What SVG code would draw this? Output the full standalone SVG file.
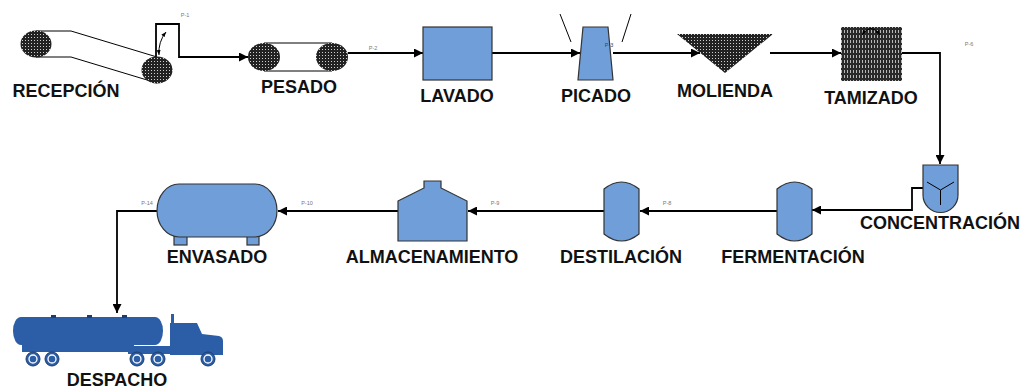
<svg xmlns="http://www.w3.org/2000/svg" width="1022" height="389" viewBox="0 0 1022 389">
  <style>
    .lbl { font-family: "Liberation Sans", Arial, sans-serif; font-weight: bold; font-size: 18px; fill: #111; text-anchor: middle; }
    .tag { font-family: "Liberation Sans", Arial, sans-serif; font-size: 5.5px; fill: #777; text-anchor: middle; }
    .pipe { fill: none; stroke: #000; stroke-width: 1.8; }
    .thin { fill: none; stroke: #000; stroke-width: 1; }
    .vessel { fill: #6f9ed9; stroke: #333; stroke-width: 1.2; }
    .truck { fill: #2b5ea7; }
    .mesh { fill: url(#mesh); }
  </style>
  <defs>
    <pattern id="mesh" width="3" height="3" patternUnits="userSpaceOnUse">
      <rect width="3" height="3" fill="#222"/>
      <rect x="1" y="1" width="1" height="1" fill="#d0d0d0"/>
    </pattern>
    <pattern id="screen" width="3" height="5" patternUnits="userSpaceOnUse">
      <rect width="3" height="5" fill="#2a2a2a"/>
      <rect x="1" y="0" width="1" height="3" fill="#b8b8b8"/>
    </pattern>
    <marker id="arr" viewBox="0 0 10 10" refX="10" refY="5" markerWidth="5" markerHeight="5" orient="auto">
      <path d="M0,0 L10,5 L0,10 Z" fill="#000"/>
    </marker>
    <marker id="arrs" viewBox="0 0 10 10" refX="10" refY="5" markerWidth="5" markerHeight="5" orient="auto-start-reverse">
      <path d="M0,1 L10,5 L0,9 Z" fill="#000"/>
    </marker>
  </defs>

  <!-- connectors -->
  <g id="connectors">
    <path class="pipe" d="M156,57 V24 H179 V57 H248" marker-end="url(#arr)"/>
    <path class="pipe" d="M348,53 H423" marker-end="url(#arr)"/>
    <path class="pipe" d="M492,53 H580" marker-end="url(#arr)"/>
    <path class="pipe" d="M613,53 H700" marker-end="url(#arr)"/>
    <path class="pipe" d="M770,53 H841" marker-end="url(#arr)"/>
    <path class="pipe" d="M902,53 H940 V164" marker-end="url(#arr)"/>
    <path class="pipe" d="M923,188 H912 V210 H812" marker-end="url(#arr)"/>
    <path class="pipe" d="M777,211 H640" marker-end="url(#arr)"/>
    <path class="pipe" d="M604,211 H468" marker-end="url(#arr)"/>
    <path class="pipe" d="M398,211 H278" marker-end="url(#arr)"/>
    <path class="pipe" d="M157,211 H117 V313" marker-end="url(#arr)"/>
    <text class="tag" x="185" y="17">P-1</text>
    <text class="tag" x="373" y="50">P-2</text>
    <text class="tag" x="969" y="46">P-6</text>
    <text class="tag" x="667" y="205">P-8</text>
    <text class="tag" x="495" y="205">P-9</text>
    <text class="tag" x="307" y="205">P-10</text>
    <text class="tag" x="147" y="205">P-14</text>
  </g>

  <!-- inclined belt conveyor -->
  <g id="recepcion">
    <path class="thin" d="M36,31 H71 L157,57 M36,57 H71 L157,83"/>
    <ellipse class="mesh" cx="36" cy="44" rx="15.5" ry="13.5"/>
    <ellipse class="mesh" cx="157" cy="70" rx="15.5" ry="13.5"/>
    <path class="thin" d="M159,55 Q158,42 166,32" marker-end="url(#arrs)" marker-start="url(#arrs)"/>
    <text class="lbl" x="66" y="97">RECEPCIÓN</text>
  </g>

  <!-- weighing belt -->
  <g id="pesado">
    <path class="thin" d="M264,43 H332 M264,71 H332"/>
    <ellipse class="mesh" cx="264" cy="57" rx="16" ry="14"/>
    <ellipse class="mesh" cx="332" cy="57" rx="16" ry="14"/>
    <text class="lbl" x="299" y="93">PESADO</text>
  </g>

  <g id="lavado">
    <rect class="vessel" x="423" y="27" width="69" height="53"/>
    <text class="lbl" x="457" y="102">LAVADO</text>
  </g>

  <g id="picado">
    <path class="thin" d="M560,14 L571,42 M631,14 L622,42"/>
    <path class="vessel" d="M583,27 H608 L613,80 H578 Z"/>
    <text class="tag" x="609" y="47" style="fill:#444">P-3</text>
    <text class="lbl" x="596" y="102">PICADO</text>
  </g>

  <g id="molienda">
    <path class="mesh" d="M677,34 H773 L725,73 Z"/>
    <text class="lbl" x="725" y="97">MOLIENDA</text>
  </g>

  <g id="tamizado">
    <rect x="841" y="27" width="61" height="54" fill="url(#screen)"/>
    <path class="thin" d="M862,35 Q871,22 880,35" marker-end="url(#arrs)" marker-start="url(#arrs)"/>
    <text class="lbl" x="871" y="104">TAMIZADO</text>
  </g>

  <g id="concentracion">
    <path class="vessel" d="M923,165 H958 V195 A17.5,17.5 0 0 1 923,195 Z"/>
    <path class="thin" d="M927,182 L940.5,190 L954,182 M940.5,190 V205"/>
    <text class="lbl" x="1020" y="229" style="text-anchor:end">CONCENTRACIÓN</text>
  </g>

  <g id="fermentacion">
    <path class="vessel" d="M777,189 Q794.5,175 812,189 V234 Q794.5,248 777,234 Z"/>
    <text class="lbl" x="793" y="263">FERMENTACIÓN</text>
  </g>

  <g id="destilacion">
    <path class="vessel" d="M604,189 Q621.5,175 639,189 V234 Q621.5,248 604,234 Z"/>
    <text class="lbl" x="621" y="263">DESTILACIÓN</text>
  </g>

  <g id="almacenamiento">
    <path class="vessel" d="M398,201 L424,188 V181 H441 V188 L467,201 V241 H398 Z"/>
    <text class="lbl" x="432" y="263">ALMACENAMIENTO</text>
  </g>

  <g id="envasado">
    <rect class="vessel" x="174" y="234" width="13" height="11"/>
    <rect class="vessel" x="247" y="234" width="12" height="11"/>
    <rect class="vessel" x="157" y="184" width="120" height="53" rx="22" ry="26.5"/>
    <text class="lbl" x="217" y="263">ENVASADO</text>
  </g>

  <!-- tanker truck -->
  <g id="despacho">
    <rect class="truck" x="22" y="343" width="112" height="9"/>
    <rect class="truck" x="128" y="346" width="95" height="8"/>
    <rect class="truck" x="13" y="317" width="150" height="28" rx="8" ry="14"/>
    <rect x="51" y="315" width="5" height="3" fill="#1d3d6e"/>
    <rect x="87" y="315" width="5" height="3" fill="#1d3d6e"/>
    <rect x="122" y="315" width="5" height="3" fill="#1d3d6e"/>
    <rect class="truck" x="171" y="314" width="3" height="20"/>
    <path class="truck" d="M170,355 V323 H197 L202,334 L219,336 Q223,337 223,341 V355 Z"/>
    <g fill="#2b5ea7" stroke="#1d3d6e" stroke-width="1">
      <circle cx="33" cy="359" r="7"/>
      <circle cx="52" cy="359" r="7"/>
      <circle cx="137" cy="359" r="7"/>
      <circle cx="158" cy="359" r="7"/>
      <circle cx="208" cy="359" r="7"/>
    </g>
    <g fill="none" stroke="#fff" stroke-width="1.3">
      <circle cx="33" cy="359" r="4"/>
      <circle cx="52" cy="359" r="4"/>
      <circle cx="137" cy="359" r="4"/>
      <circle cx="158" cy="359" r="4"/>
      <circle cx="208" cy="359" r="4"/>
    </g>
    <text class="lbl" x="117" y="386">DESPACHO</text>
  </g>
</svg>
